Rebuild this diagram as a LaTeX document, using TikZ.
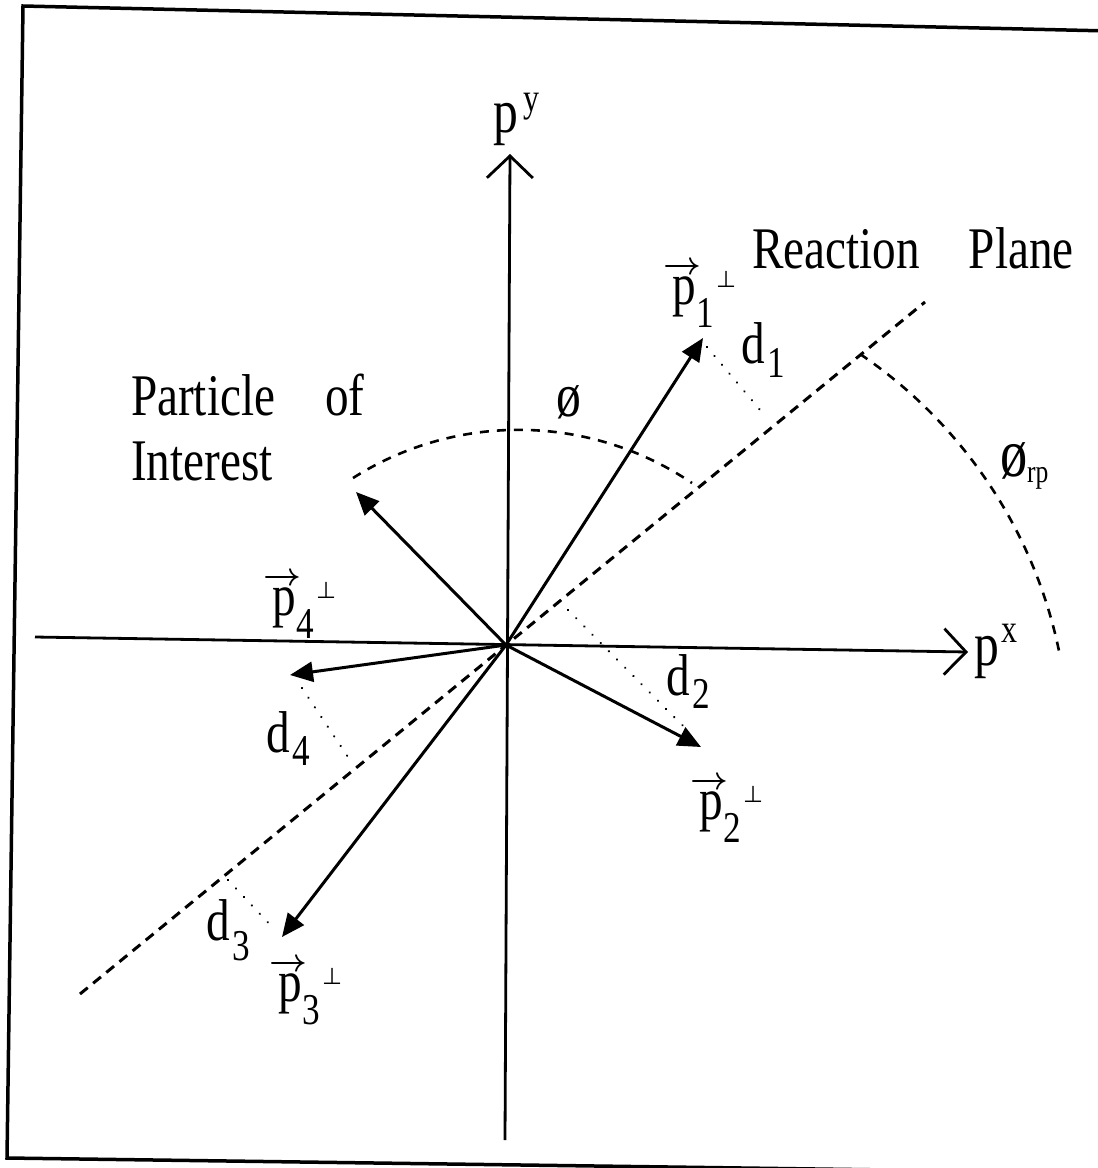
\RequirePackage{fix-cm}
\documentclass[tikz,border=0pt]{standalone}
\usepackage{fontspec}
\setmainfont{Liberation Serif}[FakeStretch=0.8]
\newfontfamily\perpfont{DejaVu Sans}
\usetikzlibrary{arrows.meta}
\newcommand{\mainsize}{\fontsize{59}{66}\selectfont}
\newcommand{\subsize}{\fontsize{44}{44}\selectfont}
\newcommand{\plab}[1]{\vbox{\offinterlineskip\halign{##\cr{\boldmath\fontsize{32}{32}\selectfont\rightarrowfill}\cr\noalign{\kern2pt}\hspace{10pt}p\hspace{6pt}\cr}}\hspace{-5pt}\raisebox{-23pt}{\subsize #1}\hspace{2pt}\raisebox{17pt}{\perpfont\fontsize{23}{23}\selectfont ⊥}}
\newcommand{\dlab}[2]{d\hspace{3pt}\raisebox{-#2}{\subsize #1}}
\begin{document}
\begin{tikzpicture}[x=1pt,y=-1pt,
  frame/.style={line width=3.5pt},
  vec/.style={line width=3pt,-{Triangle[length=23pt,width=20pt]}},
  axis/.style={line width=2.8pt,-{Straight Barb[length=22pt,width=46pt,line width=2.8pt]}},
  plane/.style={line width=3pt,dash pattern=on 10pt off 7pt},
  arcd/.style={line width=2.6pt,dash pattern=on 9pt off 8pt},
  dist/.style={line width=2.4pt,dash pattern=on 0.1pt off 11.5pt,line cap=round},
  lab/.style={inner sep=0pt,outer sep=0pt,font=\mainsize,anchor=base west}]
\useasboundingbox (0,0) rectangle (1098,1168);
\fill[white] (0,0) rectangle (1098,1168);
\clip (0,0) rectangle (1098,1168);
% frame
\coordinate (fTL) at (23,6);
\coordinate (fTR) at (1110,31);
\coordinate (fBL) at (7,1158);
\coordinate (fBR) at (1110,1173);
\draw[frame] (fTR) -- (fTL) -- (fBL) -- (fBR);
% axes
\coordinate (O) at (506,645);
\coordinate (xL) at (35,637);
\coordinate (xR) at (968,652);
\coordinate (yB) at (505,1140);
\coordinate (yT) at (510,154);
\draw[axis] (xL) -- (xR);
\draw[axis] (yB) -- (yT);
% reaction plane
\coordinate (rpA) at (80,994);
\coordinate (rpB) at (925,302);
\draw[plane] (rpA) -- (rpB);
% vectors
\coordinate (t1) at (703,338);
\coordinate (t2) at (701,747);
\coordinate (t3) at (282,937);
\coordinate (t4) at (290,675);
\coordinate (tP) at (356,492);
\draw[vec] (O) -- (t1);
\draw[vec] (O) -- (t2);
\draw[vec] (O) -- (t3);
\draw[vec] (O) -- (t4);
\draw[vec] (O) -- (tP);
% distances
\coordinate (d1a) at (707,347);
\coordinate (d1b) at (766,417);
\coordinate (d2a) at (568,610);
\coordinate (d2b) at (687,730);
\coordinate (d4a) at (302,688);
\coordinate (d4b) at (350,760);
\coordinate (d3a) at (228,880);
\coordinate (d3b) at (275,930);
\draw[dist] (d1a) -- (d1b);
\draw[dist] (d2a) -- (d2b);
\draw[dist] (d4a) -- (d4b);
\draw[dist] (d3a) -- (d3b);
% angle arcs
\coordinate (phA) at (353,478);
\coordinate (phC) at (692,483);
\draw[arcd] (phA) .. controls (457,412) and (590,414) .. (phC);
\coordinate (rS) at (860,354);
\coordinate (rE) at (1059,651);
\draw[arcd] (rS) .. controls (962,423) and (1034,530) .. (rE);
% labels
\node[lab] (py) at (493,132) {\fontsize{62}{62}\selectfont p\hspace{6pt}\raisebox{21pt}{\fontsize{40}{40}\selectfont y}};
\node[lab] (px) at (974,665) {\fontsize{62}{62}\selectfont p\hspace{3pt}\raisebox{23pt}{\fontsize{40}{40}\selectfont x}};
\node[lab] (rp) at (752,268) {Reaction\hspace{49pt}Plane};
\node[lab] (poi1) at (131,415) {Particle\hspace{50pt}of};
\node[lab] (poi2) at (131,480) {Interest};
\node[lab] (phi) at (556,416) {\fontsize{62}{62}\selectfont ø};
\node[lab] (phirp) at (1000,476) {\fontsize{68}{68}\selectfont ø\raisebox{-6pt}{\fontsize{32}{32}\selectfont rp}};
\node[lab] (d1) at (741,363) {\dlab{1}{14pt}};
\node[lab] (d2) at (666,695) {\dlab{2}{13pt}};
\node[lab] (d4) at (266,752) {\dlab{4}{13pt}};
\node[lab] (d3) at (206,940) {\dlab{3}{20pt}};
\node[lab] (p1) at (662,304) {\plab{1}};
\node[lab] (p2) at (689,819) {\plab{2}};
\node[lab] (p3) at (268,1001) {\plab{3}};
\node[lab] (p4) at (262,615) {\plab{4}};
\end{tikzpicture}
\end{document}
